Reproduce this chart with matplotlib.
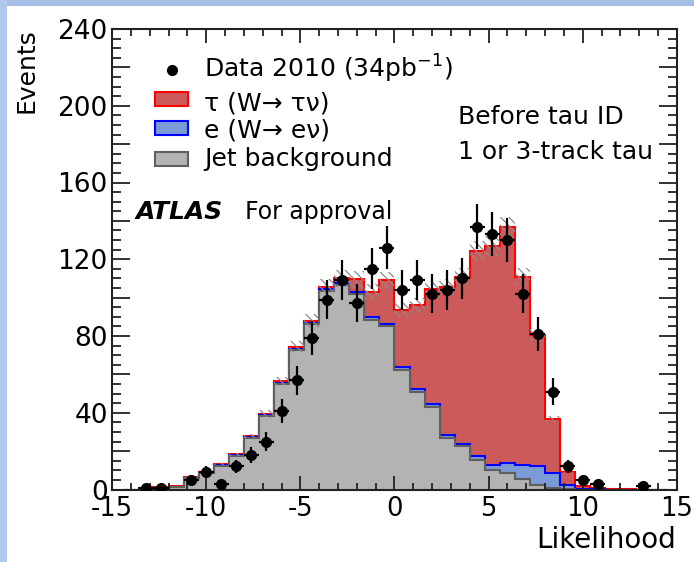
import numpy as np
import matplotlib.pyplot as plt
from matplotlib.patches import Rectangle
from matplotlib.lines import Line2D
from matplotlib.ticker import MultipleLocator, FuncFormatter

plt.rcParams['axes.unicode_minus'] = False
plt.rcParams['mathtext.default'] = 'regular'
plt.rcParams['hatch.linewidth'] = 0.9

# likelihood histogram, 0.8 wide bins
edges = np.linspace(-14.4, 14.4, 37)
jet = [0, 0, 1.0, 1.5, 6.0, 8.5, 12.5, 17.5, 27.0, 38.5,
       55.0, 72.5, 86.0, 103.5, 106.5, 102.0, 88.5, 85.0, 62.5, 51.0,
       43.0, 27.0, 22.5, 15.5, 10.0, 8.5, 5.5, 2.5, 0.8, 0.3,
       0, 0, 0, 0, 0, 0]
ele = [0, 0, 0, 0, 0.2, 0.2, 0.2, 0.3, 0.3, 0.4,
       0.5, 0.6, 0.7, 0.8, 0.9, 1.0, 1.2, 1.2, 1.3, 1.4,
       1.6, 1.5, 1.4, 2.2, 3.0, 5.3, 7.3, 9.8, 7.7, 2.0,
       0.5, 0.2, 0, 0, 0, 0]
tau = [0, 0, 0.2, 0.3, 0.3, 0.3, 0.5, 0.5, 0.5, 0.7,
       1.0, 1.4, 1.1, 1.4, 2.6, 6.5, 13.3, 22.8, 29.7, 43.6,
       59.9, 77.0, 87.1, 106.6, 114.0, 123.0, 98.2, 68.2, 28.2, 6.7,
       1.5, 0.4, 0.4, 0.4, 0, 0]
data = [0, 1, 1, 0, 5, 9, 3, 12, 18, 25,
        41, 57, 79, 99, 109, 97, 115, 126, 104, 109,
        102, 104, 110, 137, 133, 130, 102, 81, 51, 12,
        5, 3, 0, 0, 2, 0]
syst_frac = 0.04

W, H = 694, 562
def fx(px):
    return px / W
def fy(py):
    return 1 - py / H

fig = plt.figure(figsize=(W / 100, H / 100), dpi=100)
fig.patch.set_facecolor('white')
# slide frame
fig.add_artist(Rectangle((0, fy(6)), 1, 6 / H, transform=fig.transFigure,
                         facecolor='#a6bde6', lw=0))
fig.add_artist(Rectangle((0, 0), 7 / W, 1, transform=fig.transFigure,
                         facecolor='#b2c7ec', lw=0))

ax = fig.add_axes([fx(112), fy(489.5), (677 - 112) / W, (489.5 - 29) / H])

jet = np.array(jet)
s_e = jet + np.array(ele)
s_tau = s_e + np.array(tau)
data = np.array(data, dtype=float)
centers = 0.5 * (edges[:-1] + edges[1:])

ax.stairs(s_tau, edges, fill=True, color='#cc5a5a', zorder=1)
ax.stairs(s_tau, edges, color='red', lw=1.5, zorder=1.1)
ax.stairs(s_e, edges, fill=True, color='#7b9bd6', zorder=1.2)
ax.stairs(s_e, edges, color='blue', lw=1.5, zorder=1.3)
ax.stairs(jet, edges, fill=True, color='#b3b3b3', zorder=1.4)
ax.stairs(jet, edges, color='#5f5f5f', lw=1.5, zorder=1.5)

# systematic band
ax.stairs(s_tau * (1 + syst_frac), edges, baseline=s_tau * (1 - syst_frac),
          fill=True, facecolor='none', edgecolor='#8c8c8c', hatch='\\\\\\\\',
          lw=0, zorder=2)

m = data > 0
ax.errorbar(centers[m], data[m], xerr=0.4, yerr=np.sqrt(data[m]), fmt='o',
            color='black', ms=7, elinewidth=1.6, capsize=0, zorder=3)

ax.set_xlim(-15, 15)
ax.set_ylim(0, 240)
ax.xaxis.set_major_locator(MultipleLocator(5))
ax.xaxis.set_minor_locator(MultipleLocator(1))
ax.yaxis.set_major_locator(MultipleLocator(20))
ax.yaxis.set_minor_locator(MultipleLocator(5))
ax.yaxis.set_major_formatter(FuncFormatter(lambda v, p: f'{v:.0f}' if v % 40 == 0 else ''))
ax.tick_params(which='both', direction='in', top=True, right=True,
               labelsize=19, width=1.3, color='#222222')
ax.tick_params(axis='x', which='major', length=10, pad=5, labelsize=18.5)
ax.tick_params(axis='x', which='minor', length=5)
ax.tick_params(axis='y', which='major', length=13, pad=3)
ax.tick_params(axis='y', which='minor', length=6.5)
for sp in ax.spines.values():
    sp.set_linewidth(1.5)
    sp.set_color('#222222')

fig.text(fx(27), fy(28), 'Events', rotation=90, ha='center', va='top', fontsize=18)
fig.text(fx(676), fy(548), 'Likelihood', ha='right', va='baseline', fontsize=20)

# legend
fig.add_artist(Line2D([fx(172)], [fy(69.5)], marker='o', color='black', ms=7,
                      transform=fig.transFigure))
boxes = [(105.5, '#cc5a5a', 'red'), (134.5, '#7b9bd6', 'blue'),
         (165.5, '#b3b3b3', '#5f5f5f')]
for yb, fc, ec in boxes:
    fig.add_artist(Rectangle((fx(155), fy(yb)), 33 / W, 13.5 / H,
                             transform=fig.transFigure, facecolor=fc,
                             edgecolor=ec, lw=1.5))
leg_text = ['Data 2010 (34pb$^{-1}$)', 'τ (W→ τν)', 'e (W→ eν)', 'Jet background']
for yb, s in zip([77.5, 110.5, 137.5, 166], leg_text):
    fig.text(fx(204), fy(yb), s, ha='left', va='baseline', fontsize=18)

fig.text(fx(458), fy(124), 'Before tau ID', ha='left', va='baseline', fontsize=18)
fig.text(fx(458), fy(159), '1 or 3-track tau', ha='left', va='baseline', fontsize=18)
fig.text(fx(136), fy(219), 'ATLAS', ha='left', va='baseline', fontsize=18,
         fontweight='bold', fontstyle='italic')
fig.text(fx(245), fy(219), 'For approval', ha='left', va='baseline', fontsize=17)

fig.savefig('out.png', dpi=100)
